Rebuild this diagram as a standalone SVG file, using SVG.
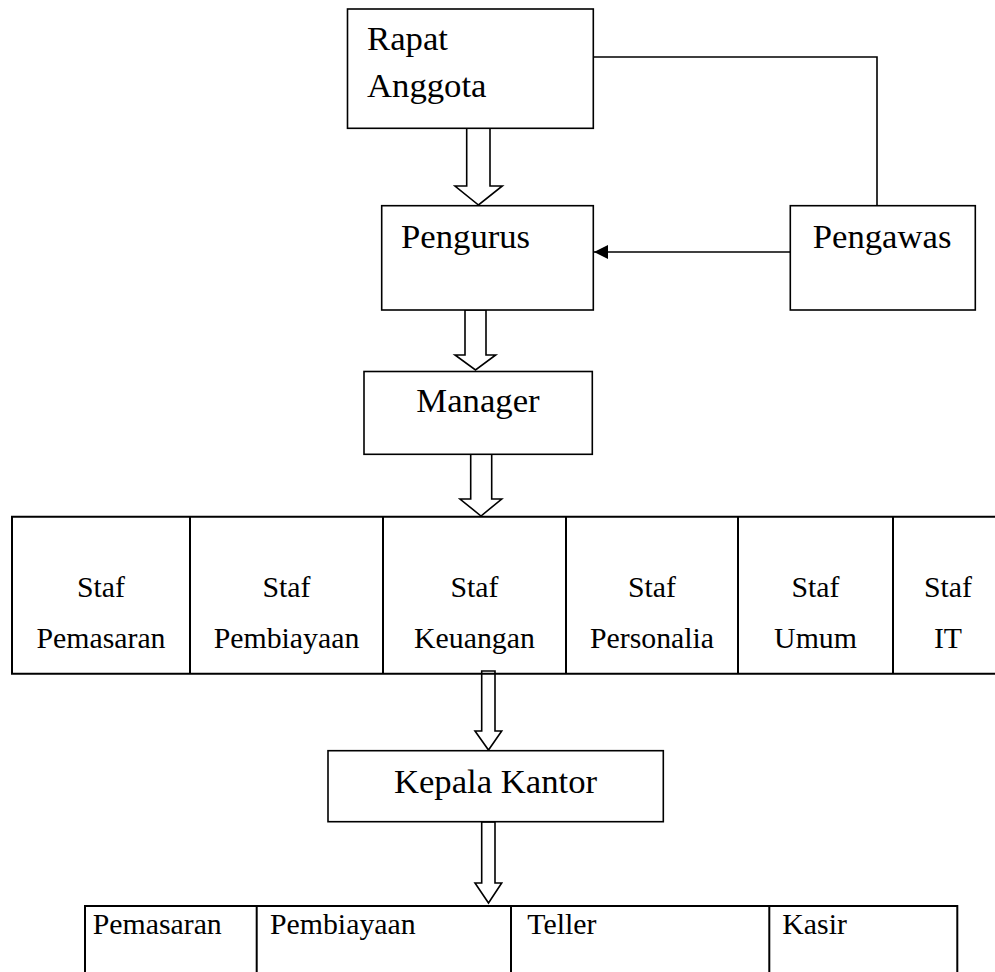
<svg xmlns="http://www.w3.org/2000/svg" width="995" height="972" viewBox="0 0 995 972">
<style>
.box{fill:#fff;stroke:#000;stroke-width:1.6}
.tbl{fill:none;stroke:#000;stroke-width:2}
.big{font-family:"Liberation Serif","Times New Roman",serif;font-size:34.7px;fill:#000}
.mid{font-family:"Liberation Serif","Times New Roman",serif;font-size:29.8px;fill:#000}
.c{text-anchor:middle}
.blk{fill:#fff;stroke:#000;stroke-width:1.6;stroke-linejoin:miter}
.ln{fill:none;stroke:#000;stroke-width:1.6}
</style>
<defs>
<marker id="ah" markerWidth="14" markerHeight="14" refX="14" refY="7" orient="auto" markerUnits="userSpaceOnUse">
<path d="M0,0 L14,7 L0,14 Z" fill="#000"/>
</marker>
</defs>
<rect width="995" height="972" fill="#fff"/>

<g id="connectors">
<polyline class="ln" points="593,57 877,57 877,206"/>
<line class="ln" x1="790" y1="252" x2="594" y2="252" marker-end="url(#ah)"/>
<polygon class="blk" points="466.7,128 490,128 490,186 502.3,186 478.5,205 455,186 466.7,186"/>
<polygon class="blk" points="465,310 486,310 486,355 495.7,355 475.5,370 455,355 465,355"/>
<polygon class="blk" points="470.7,454 491.7,454 491.7,499 501.7,499 481,516 460,499 470.7,499"/>
<polygon class="blk" points="481.7,671 495,671 495,731 501.7,731 488.5,750 475,731 481.7,731"/>
<polygon class="blk" points="481.7,822 495,822 495,883 501.7,883 488.5,903 475,883 481.7,883"/>
</g>

<g id="rapat-anggota">
<rect class="box" x="347.5" y="9" width="245.8" height="119.3"/>
<text class="big" x="367" y="50">Rapat</text>
<text class="big" x="367" y="96.7">Anggota</text>
</g>

<g id="pengurus">
<rect class="box" x="381.7" y="205.7" width="211.6" height="104.3"/>
<text class="big" x="401" y="248.3">Pengurus</text>
</g>

<g id="pengawas">
<rect class="box" x="790.3" y="205.7" width="185" height="104.3"/>
<text class="big" x="812.7" y="248.3">Pengawas</text>
</g>

<g id="manager">
<rect class="box" x="364" y="371.5" width="228.3" height="82.8"/>
<text class="big c" x="478" y="411.7">Manager</text>
</g>

<g id="staf">
<path class="tbl" d="M995,516.7 H12 V673.7 H995 M190,516.7 V673.7 M383,516.7 V673.7 M566,516.7 V673.7 M738,516.7 V673.7 M893,516.7 V673.7"/>
<text class="mid c" x="101" y="597">Staf</text>
<text class="mid c" x="101" y="648">Pemasaran</text>
<text class="mid c" x="286.5" y="597">Staf</text>
<text class="mid c" x="286.5" y="648">Pembiayaan</text>
<text class="mid c" x="474.5" y="597">Staf</text>
<text class="mid c" x="474.5" y="648">Keuangan</text>
<text class="mid c" x="652" y="597">Staf</text>
<text class="mid c" x="652" y="648">Personalia</text>
<text class="mid c" x="815.5" y="597">Staf</text>
<text class="mid c" x="815.5" y="648">Umum</text>
<text class="mid c" x="948" y="597">Staf</text>
<text class="mid c" x="948" y="648">IT</text>
</g>

<g id="kepala-kantor">
<rect class="box" x="328" y="750.7" width="335.3" height="71"/>
<text class="big c" x="495.5" y="793">Kepala Kantor</text>
</g>

<g id="unit">
<path class="tbl" d="M85,975 V906 H957.3 V975 M256.7,906 V975 M511,906 V975 M769.3,906 V975"/>
<text class="mid" x="92.7" y="934.3">Pemasaran</text>
<text class="mid" x="270" y="934.3">Pembiayaan</text>
<text class="mid" x="527.3" y="934.3">Teller</text>
<text class="mid" x="782.3" y="934.3">Kasir</text>
</g>
</svg>
